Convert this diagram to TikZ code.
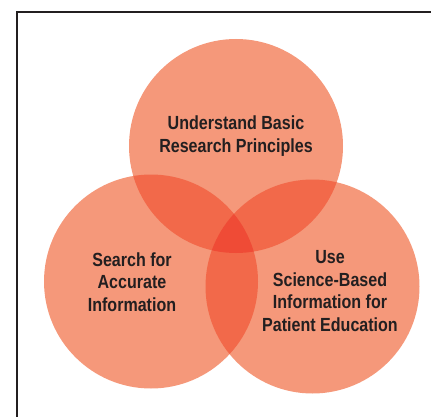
\documentclass[tikz,border=0pt]{standalone}
\usepackage{fontspec}
\setmainfont{Liberation Sans}[FakeStretch=0.845]

\definecolor{vennsingle}{HTML}{F5987A}
\definecolor{venndouble}{HTML}{F2694A}
\definecolor{venntriple}{HTML}{EF4B36}
\definecolor{venntext}{HTML}{231F20}

\begin{document}
\begin{tikzpicture}[x=1pt, y=-1pt,
     every node/.style={font=\bfseries\fontsize{19}{22.5}\selectfont, text=venntext, align=center},
     ring/.style={circle, fill=vennsingle, minimum size=214pt, inner sep=0pt}]

   \useasboundingbox (0,0) rectangle (431,417);

   % the three circles
   \node[ring] (basics)  at (236,146)   {};
   \node[ring] (search)  at (151,281.5) {};
   \node[ring] (science) at (312.5,286.5) {};

   % pairwise overlaps
   \begin{scope}
    \clip (basics.center) circle (107pt);
    \fill[venndouble] (search.center) circle (107pt);
    \fill[venndouble] (science.center) circle (107pt);
   \end{scope}
   \begin{scope}
    \clip (search.center) circle (107pt);
    \fill[venndouble] (science.center) circle (107pt);
   \end{scope}
   % centre
   \begin{scope}
    \clip (basics.center) circle (107pt);
    \clip (search.center) circle (107pt);
    \fill[venntriple] (science.center) circle (107pt);
   \end{scope}

   \node (basicstext)   at (236,136) {Understand Basic\\Research Principles};
   \node (searchtext)   at (132,282) {Search for\\Accurate\\Information};
   \node (sciencetext)  at (330,291) {Use\\Science-Based\\Information for\\Patient Education};

   % frame
   \draw[line width=2pt, venntext] (17,440) |- (450,12);
\end{tikzpicture}
\end{document}
